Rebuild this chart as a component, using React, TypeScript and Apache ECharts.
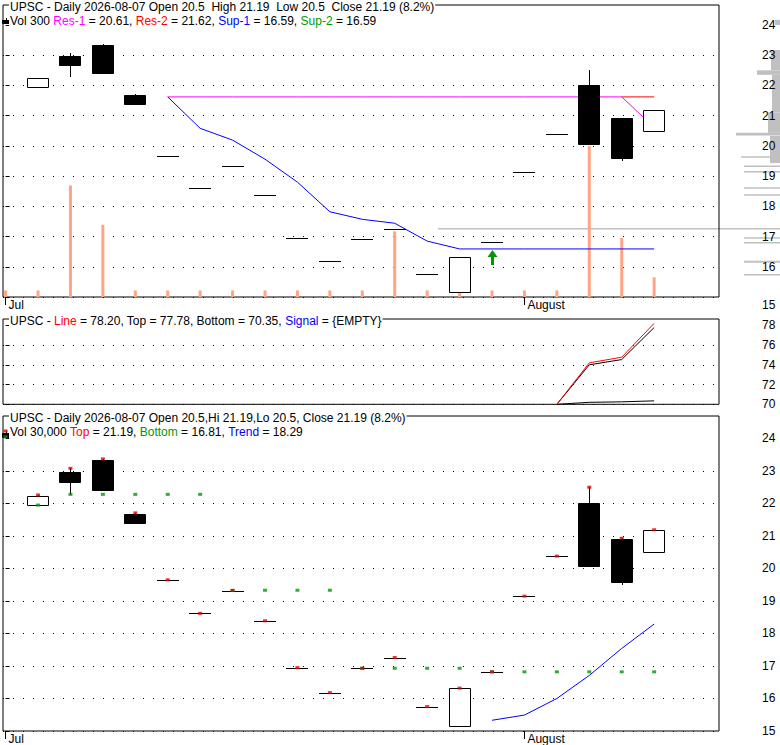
import React, { useEffect, useRef } from "react";
import * as echarts from "echarts";

// ---------- data ----------
const days = [0, 1, 2, 3, 4, 5, 6, 7, 8, 9, 10, 11, 12, 13, 14, 15, 16, 17, 18, 19, 20];
const opens = [24.17, 21.95, 22.98, 23.35, 21.69, 19.65, 18.62, 19.32, 18.39, 16.95, 16.18, 16.93, 17.26, 15.75, 15.15, 16.82, 19.15, 20.38, 22.0, 20.92, 20.5];
const closes = [24.05, 22.24, 22.66, 22.4, 21.4, 19.65, 18.62, 19.32, 18.39, 16.95, 16.18, 16.93, 17.26, 15.75, 16.31, 16.82, 19.15, 20.38, 20.07, 19.59, 21.19];
const lows = [24.05, 21.95, 22.27, 22.4, 21.4, 19.65, 18.62, 19.32, 18.39, 16.95, 16.18, 16.93, 17.26, 15.75, 15.15, 16.82, 19.15, 20.38, 20.07, 19.5, 20.5];
const highs = [24.23, 22.26, 23.08, 23.37, 21.71, 19.65, 18.62, 19.32, 18.39, 16.95, 16.18, 16.93, 17.26, 15.75, 16.32, 16.82, 19.15, 20.38, 22.5, 20.93, 21.19];
const volumes = [100, 100, 1700, 1100, 100, 100, 100, 100, 100, 100, 100, 100, 1000, 100, 100, 100, 100, 100, 2300, 900, 300];

const res1 = [null, null, null, null, null, 21.62, 21.62, 21.62, 21.62, 21.62, 21.62, 21.62, 21.62, 21.62, 21.62, 21.62, 21.62, 21.62, 21.62, 21.62, 20.61];
const res2 = [null, null, null, null, null, null, null, null, null, null, null, null, null, null, null, null, null, null, null, 21.62, 21.62];
const sup1 = [null, null, null, null, null, 21.62, 20.58, 20.19, 19.56, 18.8, 17.82, 17.57, 17.44, 16.85, 16.59, 16.59, 16.59, 16.59, 16.59, 16.59, 16.59];
const buySignalDay = [15];
const buySignalPrice = [16.55];

// middle indicator (days 17..20)
const indDays = [17, 18, 19, 20];
const indLine = [70.0, 74.2, 74.77, 78.2];
const indTop = [70.0, 74.0, 74.53, 77.78];
const indBottom = [70.0, 70.2, 70.25, 70.35];

// bottom panel
const topDots = highs;
const bottomDots = [24.05, 21.95, 22.28, 22.28, 22.28, 22.28, 22.28, 19.33, 19.33, 19.33, 19.33, 16.93, 16.93, 16.93, 16.93, 16.82, 16.82, 16.82, 16.82, 16.82, 16.82];
const trendDays = [15, 16, 17, 18, 19, 20];
const trendVals = [15.33, 15.49, 16.0, 16.71, 17.54, 18.29];

// volume-at-price profile: [low, high, length]
const profileLow = [24.0, 22.5, 22.35, 21.1, 20.43, 20.34, 19.43, 19.61, 19.3, 19.12, 18.58, 18.35, 17.23, 16.93, 16.77, 16.13, 15.71];
const profileHigh = [24.17, 23.17, 22.5, 22.35, 21.1, 20.43, 20.33, 19.66, 19.35, 19.17, 18.63, 18.4, 17.28, 16.98, 16.82, 16.2, 15.76];
const profileLen = [5, 9, 23, 8, 12, 44, 10, 39, 36, 36, 36, 36, 342, 36, 36, 36, 36];

const priceTicks = [15, 16, 17, 18, 19, 20, 21, 22, 23, 24];
const indTicks = [70, 72, 74, 76, 78];
const monthTickDays = [0, 16];
const monthLabels = ["Jul", "August"];

// ---------- helpers ----------
const FONT = "'Liberation Sans', Arial, Helvetica, sans-serif";
const DOT = [1, 9];

function candleRender(params: any, api: any) {
  const i = api.value(0);
  const o = api.value(1);
  const c = api.value(2);
  const l = api.value(3);
  const h = api.value(4);
  const pO = api.coord([i, o]);
  const pC = api.coord([i, c]);
  const pL = api.coord([i, l]);
  const pH = api.coord([i, h]);
  const full = api.size([1, 0])[0];
  const bw = Math.round(full * (params.dataIndex === 0 ? 0.29 : 0.68));
  const cx = Math.round(pO[0]);
  const left = cx - Math.floor(bw / 2);
  const top = Math.round(Math.min(pO[1], pC[1]));
  const bot = Math.round(Math.max(pO[1], pC[1]));
  const children: any[] = [];
  const yHi = Math.round(pH[1]);
  const yLo = Math.round(pL[1]);
  if (yHi < top || yLo > bot) {
    children.push({
      type: "line",
      shape: { x1: cx + 0.5, y1: yHi, x2: cx + 0.5, y2: yLo },
      style: { stroke: "#000", lineWidth: 1 },
    });
  }
  if (bot - top < 1) {
    children.push({
      type: "line",
      shape: { x1: left, y1: top + 0.5, x2: left + bw, y2: top + 0.5 },
      style: { stroke: "#000", lineWidth: 1 },
    });
  } else {
    const up = c >= o;
    children.push({
      type: "rect",
      shape: { x: left + 0.5, y: top + 0.5, width: bw - 1, height: bot - top },
      style: { fill: up ? "#fff" : "#000", stroke: "#000", lineWidth: 1 },
    });
  }
  return { type: "group", children };
}

function profileRender(params: any, api: any) {
  const lo = api.value(0);
  const hi = api.value(1);
  const len = api.value(2);
  const y1 = api.coord([0, hi])[1];
  const y2 = api.coord([0, lo])[1];
  const w = api.getWidth();
  const hgt = Math.max(1.5, y2 - y1);
  return {
    type: "rect",
    shape: { x: w - len, y: y1, width: len, height: hgt },
    style: { fill: "#c0c0c0" },
  };
}

function arrowRender(params: any, api: any) {
  const p = api.coord([api.value(0), api.value(1)]);
  const x = Math.round(p[0]) + 0.5;
  const y = Math.round(p[1]);
  return {
    type: "polygon",
    shape: {
      points: [
        [x, y],
        [x + 5, y + 7],
        [x + 1.5, y + 7],
        [x + 1.5, y + 15],
        [x - 1.5, y + 15],
        [x - 1.5, y + 7],
        [x - 5, y + 7],
      ],
    },
    style: { fill: "#009900" },
  };
}

const xMin = -0.08;
const xMax = 22.0;

function makeXAxis(gridIndex: number, labels: boolean) {
  return {
    type: "value",
    gridIndex,
    min: xMin,
    max: xMax,
    axisLine: { show: false },
    splitLine: { show: false },
    axisTick: {
      show: labels,
      length: 8,
      customValues: monthTickDays,
      lineStyle: { color: "#000" },
    },
    axisLabel: {
      show: labels,
      customValues: monthTickDays,
      formatter: (v: number) => {
        const k = monthTickDays.indexOf(Math.round(v));
        return k >= 0 && Math.abs(v - monthTickDays[k]) < 1e-6 ? monthLabels[k] : "";
      },
      align: "left",
      padding: [0, 0, 0, 3],
      margin: 2,
      color: "#000",
      fontSize: 12,
      fontFamily: FONT,
    },
  };
}

function makePriceAxis(gridIndex: number, min: number, max: number, interval: number, ticks: number[], lowPad: boolean) {
  return {
    type: "value",
    gridIndex,
    position: "right",
    min,
    max,
    interval,
    axisLine: { show: false },
    axisTick: {
      show: true,
      length: 4,
      customValues: ticks,
      lineStyle: { color: "#000" },
    },
    axisLabel: {
      show: true,
      customValues: ticks,
      margin: 43,
      color: "#000",
      fontSize: 12,
      fontFamily: FONT,
      formatter: (v: number) => {
        if (ticks.indexOf(v) < 0) return "";
        if (lowPad && v === ticks[0]) return "{lo|" + v + "}";
        return String(v);
      },
      rich: {
        lo: { padding: [16, 0, 0, 0], fontSize: 12, fontFamily: FONT, color: "#000" },
      },
    },
    splitLine: {
      show: true,
      showMaxLine: false,
      lineStyle: { color: "#000", type: DOT, width: 1 },
    },
  };
}

function header(x: number, y: number, text: string) {
  return {
    type: "text",
    x,
    y,
    z: 100,
    style: {
      text,
      fill: "#000",
      font: "12px " + FONT,
      verticalAlign: "middle",
      align: "left",
      backgroundColor: "#fff",
      padding: [1, 1, 1, 1],
      rich: {
        k: { fill: "#000", font: "12px " + FONT },
        m: { fill: "#ff00ff", font: "12px " + FONT },
        r: { fill: "#ff0000", font: "12px " + FONT },
        b: { fill: "#0000ff", font: "12px " + FONT },
        g: { fill: "#009900", font: "12px " + FONT },
      },
    },
  };
}

export default function App() {
  const ref = useRef<HTMLDivElement>(null);

  useEffect(() => {
    if (!ref.current) return;
    const chart = echarts.init(ref.current, undefined, { renderer: "svg" });

    const candleData = days.map((d, i) => [d, opens[i], closes[i], lows[i], highs[i]]);
    const volData = days.map((d, i) => [d, volumes[i]]);
    const pair = (arr: (number | null)[]) => days.map((d, i) => [d, arr[i]]);
    const profileData = profileLow.map((lo, i) => [profileLow[i], profileHigh[i], profileLen[i]]);

    const gridBase = { left: 3, width: 716, show: true, borderColor: "#000", borderWidth: 1, backgroundColor: "transparent", containLabel: false };

    const option: any = {
      animation: false,
      textStyle: { fontFamily: FONT },
      grid: [
        { ...gridBase, top: 5, height: 292 },
        { ...gridBase, top: 319, height: 85.3 },
        { ...gridBase, top: 416, height: 315 },
      ],
      xAxis: [makeXAxis(0, true), makeXAxis(1, false), makeXAxis(2, true)],
      yAxis: [
        makePriceAxis(0, 15, 24.66, 1, priceTicks, true),
        { type: "value", gridIndex: 0, min: 0, max: 4450, show: false, splitLine: { show: false } },
        makePriceAxis(1, 70, 78.64, 2, indTicks, false),
        makePriceAxis(2, 15, 24.69, 1, priceTicks, false),
      ],
      series: [
        // top panel
        {
          type: "custom",
          xAxisIndex: 0,
          yAxisIndex: 0,
          data: profileData,
          renderItem: profileRender,
          encode: { y: [0, 1] },
          clip: false,
          z: -1,
        },
        {
          type: "bar",
          xAxisIndex: 0,
          yAxisIndex: 1,
          data: volData,
          barWidth: 3,
          itemStyle: { color: "#ffa585" },
          z: 1,
        },
        {
          type: "line",
          xAxisIndex: 0,
          yAxisIndex: 0,
          data: pair(res1),
          showSymbol: false,
          lineStyle: { color: "#ff00ff", width: 1 },
          z: 4,
        },
        {
          type: "line",
          xAxisIndex: 0,
          yAxisIndex: 0,
          data: pair(res2),
          showSymbol: false,
          lineStyle: { color: "#ff0000", width: 1 },
          z: 5,
        },
        {
          type: "line",
          xAxisIndex: 0,
          yAxisIndex: 0,
          data: pair(sup1),
          showSymbol: false,
          lineStyle: { color: "#0000ff", width: 1 },
          z: 5,
        },
        {
          type: "custom",
          xAxisIndex: 0,
          yAxisIndex: 0,
          data: candleData,
          renderItem: candleRender,
          encode: { x: 0, y: [1, 2, 3, 4] },
          clip: false,
          z: 7,
        },
        {
          type: "custom",
          xAxisIndex: 0,
          yAxisIndex: 0,
          data: buySignalDay.map((d, i) => [d, buySignalPrice[i]]),
          renderItem: arrowRender,
          encode: { x: 0, y: 1 },
          z: 8,
        },
        // middle panel
        {
          type: "line",
          xAxisIndex: 1,
          yAxisIndex: 2,
          data: indDays.map((d, i) => [d, indBottom[i]]),
          showSymbol: false,
          lineStyle: { color: "#000", width: 1 },
        },
        {
          type: "line",
          xAxisIndex: 1,
          yAxisIndex: 2,
          data: indDays.map((d, i) => [d, indTop[i]]),
          showSymbol: false,
          lineStyle: { color: "#000", width: 1 },
        },
        {
          type: "line",
          xAxisIndex: 1,
          yAxisIndex: 2,
          data: indDays.map((d, i) => [d, indLine[i]]),
          showSymbol: false,
          lineStyle: { color: "#ff0000", width: 1 },
        },
        // bottom panel
        {
          type: "custom",
          xAxisIndex: 2,
          yAxisIndex: 3,
          data: candleData,
          renderItem: candleRender,
          encode: { x: 0, y: [1, 2, 3, 4] },
          clip: false,
          z: 3,
        },
        {
          type: "scatter",
          xAxisIndex: 2,
          yAxisIndex: 3,
          data: pair(bottomDots),
          symbol: "rect",
          symbolSize: [4, 3],
          itemStyle: { color: "#009900" },
          z: 4,
        },
        {
          type: "scatter",
          xAxisIndex: 2,
          yAxisIndex: 3,
          data: pair(topDots),
          symbol: "rect",
          symbolSize: [4, 3],
          itemStyle: { color: "#e00000" },
          z: 5,
        },
        {
          type: "line",
          xAxisIndex: 2,
          yAxisIndex: 3,
          data: trendDays.map((d, i) => [d, trendVals[i]]),
          showSymbol: false,
          lineStyle: { color: "#0000ff", width: 1 },
          z: 6,
        },
      ],
      graphic: [
        header(9, 6.7, "UPSC - Daily 2026-08-07 Open 20.5  High 21.19  Low 20.5  Close 21.19 (8.2%)"),
        header(9, 21.2, "Vol 300 {m|Res-1} = 20.61, {r|Res-2} = 21.62, {b|Sup-1} = 16.59, {g|Sup-2} = 16.59"),
        header(9, 321, "UPSC - {r|Line} = 78.20, Top = 77.78, Bottom = 70.35, {b|Signal} = {EMPTY}"),
        header(9, 417.5, "UPSC - Daily 2026-08-07 Open 20.5,Hi 21.19,Lo 20.5, Close 21.19 (8.2%)"),
        header(9, 431.8, "Vol 30,000 {r|Top} = 21.19, {g|Bottom} = 16.81, {b|Trend} = 18.29"),
      ],
    };

    chart.setOption(option);
    return () => chart.dispose();
  }, []);

  return (
    <div
      ref={ref}
      style={{ position: "absolute", left: 0, top: 0, width: 780, height: 745, background: "#fff" }}
    />
  );
}
